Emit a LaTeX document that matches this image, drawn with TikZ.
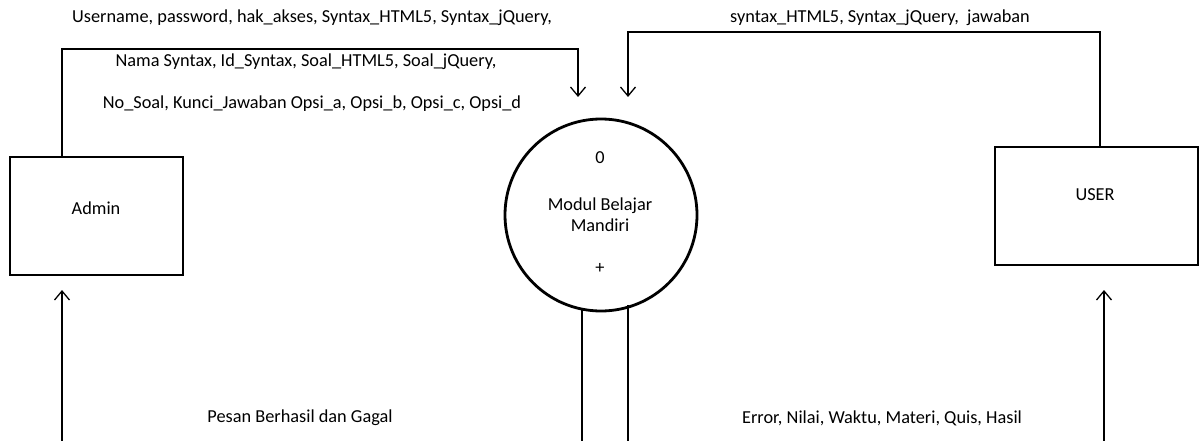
\documentclass[tikz,border=0pt]{standalone}
\usepackage{fontspec}
\setmainfont{Carlito}
\usetikzlibrary{arrows.meta}
\begin{document}
\begin{tikzpicture}[x=1pt,y=-1pt,
  entity/.style={draw,line width=2.8pt,inner sep=0pt},
  flow/.style={line width=1.3pt},
  arr/.style={flow,-{Straight Barb[length=9pt,width=15pt,line width=1.3pt]}},
  lbl/.style={font=\fontsize{18.3}{21}\selectfont,inner sep=0pt},
]
\useasboundingbox (0,0) rectangle (1202,441);
% entities
\node[entity,minimum width=173pt,minimum height=118pt] (admin) at (96.5,216) {};
\node[lbl] (admintxt) at (96,208) {Admin};
\node[entity,minimum width=203pt,minimum height=118pt] (user) at (1096.5,206) {};
\node[lbl] (usertxt) at (1095,195) {USER};
% process
\node[draw,circle,line width=2.8pt,minimum size=192pt,inner sep=0pt] (proc) at (601,215) {};
\node[lbl] (p0) at (600,158) {0};
\node[lbl,align=center] (pname) at (600,215) {Modul Belajar\\[0pt]Mandiri};
\node[lbl] (pplus) at (600,268) {+};
% coordinates
\coordinate (a1) at (62,49);
\coordinate (a2) at (578,49);
\coordinate (a3) at (578,97);
\coordinate (u1) at (1100,32);
\coordinate (u2) at (628,32);
\coordinate (u3) at (628,97);
\coordinate (b1) at (582,441);
\coordinate (b2) at (628,441);
\coordinate (b3) at (62,441);
\coordinate (b4) at (62,290);
\coordinate (b5) at (1104,441);
\coordinate (b6) at (1104,290);
% flows
\draw[arr] (admin.north -| a1) -- (a1) -- (a2) -- (a3);
\draw[arr] (user.north -| u1) -- (u1) -- (u2) -- (u3);
\draw[flow] (proc.south -| b1) ++(0,-4) -- (b1);
\draw[flow] (proc.south -| b2) ++(0,-7) -- (b2);
\draw[arr] (b3) -- (b4);
\draw[arr] (b5) -- (b6);
% labels
\node[lbl] (l1) at (312,18) {Username, password, hak\_akses, Syntax\_HTML5, Syntax\_jQuery,};
\node[lbl] (l2) at (306,62) {Nama Syntax, Id\_Syntax, Soal\_HTML5, Soal\_jQuery,};
\node[lbl] (l3) at (312,104) {No\_Soal, Kunci\_Jawaban Opsi\_a, Opsi\_b, Opsi\_c, Opsi\_d};
\node[lbl] (l4) at (880,18) {syntax\_HTML5, Syntax\_jQuery,\ \ jawaban};
\node[lbl] (l5) at (300,418) {Pesan Berhasil dan Gagal};
\node[lbl] (l6) at (882,418) {Error, Nilai, Waktu, Materi, Quis, Hasil};
\end{tikzpicture}
\end{document}
